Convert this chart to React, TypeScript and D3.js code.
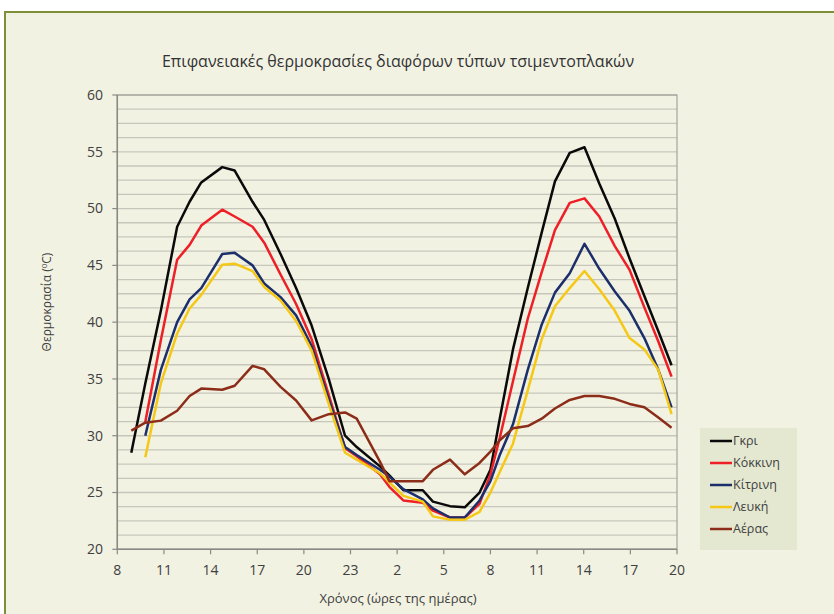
import React from "react";
import * as d3 from "d3";

const title = "Επιφανειακές θερμοκρασίες διαφόρων τύπων τσιμεντοπλακών";
const xTitle = "Χρόνος (ώρες της ημέρας)";
const yTitle = "Θερμοκρασία (";

const hours = [8.9, 9.8, 10.8, 11.85, 12.65, 13.4, 14.75, 15.55, 16.7, 17.45, 18.5, 19.5, 20.5, 21.6, 22.65, 23.4, 24.9, 25.5, 26.4, 27.65, 28.3, 29.4, 30.35, 31.3, 32.0, 32.6, 33.45, 34.4, 35.3, 36.15, 37.1, 38.05, 39.0, 40.0, 40.95, 41.9, 42.8, 43.65];

const gri = [28.5, 34.6, 41.0, 48.4, 50.6, 52.3, 53.65, 53.35, 50.6, 49.0, 46.0, 43.0, 39.7, 35.0, 30.0, 29.0, 27.3, 26.5, 25.2, 25.2, 24.2, 23.8, 23.7, 25.0, 27.0, 31.5, 37.6, 43.0, 47.9, 52.4, 54.9, 55.4, 52.2, 49.1, 45.6, 42.3, 39.2, 36.2];
const kokkini = [null, 31.2, 38.4, 45.5, 46.8, 48.5, 49.9, 49.3, 48.4, 47.0, 44.2, 41.6, 38.5, 33.6, 28.9, 28.2, 26.6, 25.5, 24.3, 24.1, 23.4, 22.8, 22.8, 24.0, 26.6, 29.8, 34.8, 40.3, 44.4, 48.1, 50.5, 50.9, 49.3, 46.7, 44.6, 41.3, 38.3, 35.2];
const kitrini = [null, 30.0, 35.8, 40.0, 42.0, 43.0, 46.0, 46.1, 45.0, 43.4, 42.2, 40.6, 37.9, 33.2, 29.0, 28.3, 27.0, 26.4, 25.3, 24.4, 23.6, 22.8, 22.8, 24.3, 26.0, 28.3, 31.0, 35.8, 39.8, 42.6, 44.3, 46.9, 44.7, 42.7, 41.0, 38.6, 35.8, 32.5];
const lefki = [null, 28.1, 34.6, 39.0, 41.2, 42.4, 45.05, 45.15, 44.5, 43.1, 41.9, 40.1, 37.5, 32.8, 28.5, 27.9, 26.7, 25.9, 24.7, 24.2, 22.9, 22.6, 22.6, 23.3, 25.0, 26.8, 29.3, 34.0, 38.5, 41.4, 43.0, 44.5, 42.9, 41.0, 38.6, 37.6, 35.8, 31.9];
const aeras = [30.45, 31.15, 31.33, 32.2, 33.5, 34.15, 34.05, 34.4, 36.15, 35.85, 34.3, 33.1, 31.35, 31.9, 32.05, 31.5, 27.7, 26.0, 26.0, 26.0, 27.0, 27.9, 26.6, 27.6, 28.6, 29.6, 30.65, 30.85, 31.5, 32.4, 33.15, 33.5, 33.5, 33.25, 32.8, 32.5, 31.6, 30.7];

const seriesNames = ["Γκρι", "Κόκκινη", "Κίτρινη", "Λευκή", "Αέρας"];
const seriesValues = [gri, kokkini, kitrini, lefki, aeras];
const seriesColors = ["#0a0a0a", "#ee1f26", "#1c2f6a", "#f5c816", "#8c2d19"];

const xTicks = [8, 11, 14, 17, 20, 23, 26, 29, 32, 35, 38, 41, 44];
const yTicks = [20, 25, 30, 35, 40, 45, 50, 55, 60];
const yGridStep = 1.25;

const W = 834, H = 614;
const plot = { left: 117.3, right: 677, top: 95, bottom: 549.3 };
const FONT = "'Open Sans', 'Noto Sans', sans-serif";

export default function App() {
  const x = d3.scaleLinear().domain([8, 44]).range([plot.left, plot.right]);
  const y = d3.scaleLinear().domain([20, 60]).range([plot.bottom, plot.top]);
  const grid = d3.range(20, 60.001, yGridStep);
  const line = d3
    .line<number | null>()
    .defined((d) => d !== null)
    .x((_, i) => x(hours[i]))
    .y((d) => y(d as number));

  const legend = { x: 700, y: 428, w: 97, h: 122, row0: 441, rowStep: 22 };

  return (
    <svg
      width={W}
      height={H}
      style={{ position: "absolute", left: 0, top: 0, display: "block" }}
    >
      <rect x={0} y={0} width={W} height={H} fill="#ffffff" />
      <rect x={5} y={12} width={W + 10} height={H + 10} fill="#f2f2e3" stroke="#7d9038" strokeWidth={2} />

      <text x={398} y={67} textAnchor="middle" fontFamily={FONT} fontSize={16} fill="#333333">
        {title}
      </text>

      {grid.map((g) => (
        <line key={g} x1={plot.left} x2={plot.right} y1={y(g)} y2={y(g)} stroke="#c6c6bb" strokeWidth={1.3} />
      ))}
      <rect x={plot.left} y={plot.top} width={plot.right - plot.left} height={plot.bottom - plot.top} fill="none" stroke="#a3a39b" strokeWidth={1.2} />
      <line x1={plot.left} x2={plot.left} y1={plot.top} y2={plot.bottom} stroke="#8a8a84" strokeWidth={1.5} />
      <line x1={plot.left} x2={plot.right} y1={plot.bottom} y2={plot.bottom} stroke="#8a8a84" strokeWidth={1.5} />

      {yTicks.map((t) => (
        <g key={t}>
          <line x1={plot.left - 5} x2={plot.left} y1={y(t)} y2={y(t)} stroke="#8a8a84" strokeWidth={1.2} />
          <text x={103} y={y(t)} dy="0.35em" textAnchor="end" fontFamily={FONT} fontSize={14} fill="#404040">
            {t}
          </text>
        </g>
      ))}
      {xTicks.map((t) => (
        <g key={t}>
          <line x1={x(t)} x2={x(t)} y1={plot.bottom} y2={plot.bottom + 5} stroke="#8a8a84" strokeWidth={1.2} />
          <text x={x(t)} y={575} textAnchor="middle" fontFamily={FONT} fontSize={14} fill="#404040">
            {t % 24}
          </text>
        </g>
      ))}

      {seriesValues.map((vals, i) => (
        <path key={seriesNames[i]} d={line(vals) || ""} fill="none" stroke={seriesColors[i]} strokeWidth={2.5} strokeLinejoin="round" />
      ))}

      <text x={398} y={603} textAnchor="middle" fontFamily={FONT} fontSize={13} fill="#404040">
        {xTitle}
      </text>
      <text transform="translate(51,302) rotate(-90)" textAnchor="middle" fontFamily={FONT} fontSize={12} fill="#404040">
        {yTitle}
        <tspan dy="-4" fontSize={8}>0</tspan>
        <tspan dy="4">C)</tspan>
      </text>

      <rect x={legend.x} y={legend.y} width={legend.w} height={legend.h} fill="#e4e8d1" />
      {seriesNames.map((n, i) => {
        const ry = legend.row0 + i * legend.rowStep;
        return (
          <g key={n}>
            <line x1={710} x2={732} y1={ry} y2={ry} stroke={seriesColors[i]} strokeWidth={2.5} />
            <text x={733} y={ry} dy="0.35em" fontFamily={FONT} fontSize={12.5} fill="#404040">
              {n}
            </text>
          </g>
        );
      })}
    </svg>
  );
}
